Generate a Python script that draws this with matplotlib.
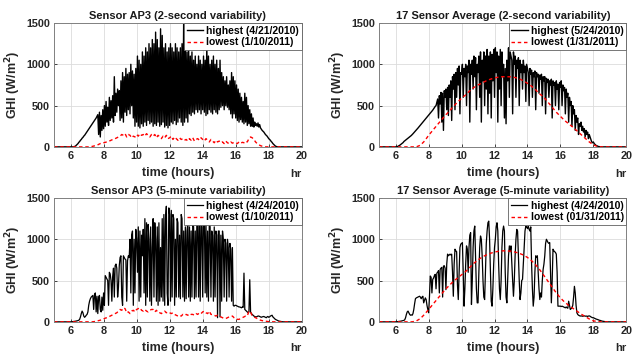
import numpy as np
import matplotlib
matplotlib.use("Agg")
import matplotlib.pyplot as plt

# ── data: GHI (W/m^2), regular time grids ──────────────────────────────────
# panel 1: Sensor AP3, 2-second variability
AP3_2S_HIGH_LABEL = "highest (4/21/2010)"
AP3_2S_HIGH_T0, AP3_2S_HIGH_DT = 6.0, 0.05
AP3_2S_HIGH = [
    0, 0, 0, 0, 2, 5, 10, 20, 30, 40, 55, 65, 80, 90, 105, 115, 130, 140, 155, 170,
    185, 200, 215, 230, 245, 260, 275, 290, 305, 320, 335, 350, 370, 390, 150, 420, 120, 380, 200, 450,
    220, 500, 250, 550, 300, 480, 260, 600, 320, 560, 350, 620, 300, 850, 380, 650, 420, 700, 500, 680,
    320, 800, 350, 900, 300, 850, 420, 950, 380, 880, 450, 900, 400, 1000, 500, 920, 350, 880, 250, 950,
    300, 1100, 250, 1050, 230, 1000, 280, 1150, 250, 1100, 300, 1200, 260, 1150, 320, 1250, 280, 1200, 300, 1300,
    250, 1250, 280, 1390, 260, 1300, 300, 1200, 250, 1430, 270, 1350, 300, 1200, 240, 1250, 260, 1150, 230, 1200,
    260, 1250, 300, 1200, 280, 1150, 320, 1250, 270, 1200, 300, 1150, 350, 1200, 300, 1250, 260, 1550, 300, 1200,
    350, 1150, 300, 1200, 400, 1100, 380, 1150, 420, 1050, 400, 1100, 450, 1000, 420, 1100, 450, 1050, 400, 1000,
    450, 1100, 420, 1050, 380, 1250, 400, 1100, 450, 1000, 420, 1050, 400, 1100, 450, 1000, 420, 1050, 400, 950,
    450, 1050, 480, 900, 500, 850, 450, 800, 500, 850, 480, 750, 450, 800, 400, 900, 350, 850, 400, 800,
    350, 750, 320, 700, 300, 650, 330, 600, 300, 550, 280, 650, 300, 600, 260, 500, 280, 450, 250, 400,
    250, 350, 240, 300, 260, 280, 250, 290, 240, 270, 230, 215, 200, 190, 180, 165, 150, 140, 130, 115,
    100, 90, 80, 65, 55, 40, 30, 20, 10, 5, 2, 0, 0, 0, 0, 0, 0,
]
AP3_2S_LOW_LABEL = "lowest (1/10/2011)"
AP3_2S_LOW_T0, AP3_2S_LOW_DT = 7.0, 0.1
AP3_2S_LOW = [
    0, 0, 2, 5, 10, 15, 20, 30, 40, 45,
    50, 55, 60, 70, 75, 85, 90, 100, 110, 120,
    130, 150, 140, 160, 120, 150, 140, 110, 130, 120,
    150, 130, 160, 140, 150, 130, 160, 140, 120, 150,
    130, 150, 110, 140, 120, 100, 130, 110, 140, 100,
    110, 130, 90, 120, 100, 80, 110, 90, 100, 80,
    90, 70, 100, 80, 110, 70, 90, 100, 80, 110,
    90, 70, 100, 80, 60, 90, 70, 50, 80, 60,
    70, 50, 60, 40, 70, 50, 40, 60, 45, 55,
    50, 40, 60, 45, 55, 50, 70, 60, 100, 120,
    110, 90, 60, 40, 25, 15, 8, 3, 0, 0,
    0, 0, 0, 0, 0, 0,
]

# panel 2: 17 sensor average, 2-second variability
AVG_2S_HIGH_LABEL = "highest (5/24/2010)"
AVG_2S_HIGH_T0, AVG_2S_HIGH_DT = 6.0, 0.05
AVG_2S_HIGH = [
    0, 0, 3, 8, 14, 20, 28, 36, 44, 52, 65, 73, 81, 89, 97, 105, 113, 121, 130, 138,
    148, 159, 170, 181, 192, 203, 215, 227, 239, 250, 262, 274, 286, 298, 310, 322, 334, 346, 358, 370,
    382, 394, 406, 418, 430, 445, 460, 475, 490, 500, 540, 580, 350, 620, 520, 660, 300, 650, 200, 680,
    600, 700, 450, 720, 380, 750, 600, 800, 320, 850, 700, 880, 450, 900, 600, 950, 750, 980, 400, 900,
    880, 1000, 600, 950, 850, 1000, 500, 980, 900, 1050, 300, 1000, 880, 1050, 700, 1100, 850, 1080, 450, 1000,
    900, 1100, 600, 1150, 300, 1050, 800, 1150, 500, 1100, 700, 1180, 400, 1100, 650, 1150, 350, 1120, 800, 1180,
    600, 1200, 900, 1150, 300, 1100, 700, 1180, 500, 1150, 850, 1000, 350, 950, 280, 1050, 800, 1200, 600, 1150,
    1100, 1050, 400, 1150, 1000, 1100, 600, 1050, 950, 1080, 500, 1050, 900, 1000, 700, 1050, 900, 980, 550, 1000,
    950, 900, 500, 950, 880, 930, 600, 900, 850, 920, 450, 900, 850, 880, 650, 870, 820, 880, 500, 850,
    800, 850, 400, 830, 780, 820, 600, 800, 750, 820, 350, 800, 750, 780, 500, 800, 700, 760, 450, 780,
    720, 800, 500, 750, 680, 720, 400, 700, 600, 650, 300, 600, 500, 550, 250, 500, 400, 450, 200, 380,
    300, 350, 150, 280, 250, 300, 200, 250, 180, 220, 120, 200, 150, 180, 100, 150, 120, 90, 60, 50,
    60, 40, 30, 20, 15, 10, 5, 3, 0, 0, 0, 0, 0, 0, 0, 0, 0,
]
AVG_2S_LOW_LABEL = "lowest (1/31/2011)"
AVG_2S_LOW_T0, AVG_2S_LOW_DT = 7.0, 0.25
AVG_2S_LOW = [
    0, 0, 20, 70, 140, 200, 260, 320, 380, 430, 490, 540, 590, 630, 680, 720,
    750, 775, 800, 820, 835, 845, 850, 850, 848, 840, 825, 800, 770, 735, 690, 640,
    600, 540, 480, 420, 370, 320, 280, 240, 195, 150, 105, 60, 25, 5, 0,
]

# panel 3: Sensor AP3, 5-minute variability
AP3_5M_HIGH_LABEL = "highest (4/24/2010)"
AP3_5M_HIGH_T0, AP3_5M_HIGH_DT = 6.0, 0.05
AP3_5M_HIGH = [
    0, 0, 2, 3, 5, 6, 8, 10, 12, 15, 20, 30, 60, 100, 130, 110, 70, 55, 65, 80,
    90, 120, 200, 250, 280, 300, 310, 320, 150, 330, 350, 120, 310, 100, 300, 320, 150, 120, 300, 140,
    350, 200, 560, 540, 520, 500, 200, 600, 580, 500, 250, 550, 650, 300, 680, 700, 650, 300, 420, 680,
    780, 800, 300, 200, 800, 780, 760, 750, 250, 740, 800, 780, 1000, 350, 1050, 1100, 200, 1000, 350, 1120,
    1000, 600, 1150, 250, 1100, 300, 1050, 800, 1120, 350, 1250, 200, 1200, 300, 1180, 1000, 250, 1150, 200, 900,
    1250, 300, 1200, 1000, 250, 1150, 200, 1200, 250, 900, 300, 1250, 250, 1300, 200, 1250, 1400, 350, 200, 1380,
    1300, 250, 1350, 300, 1300, 1250, 200, 1000, 300, 1250, 1200, 300, 1050, 280, 1300, 1250, 300, 1100, 250, 1150,
    280, 1100, 1200, 300, 1150, 250, 1100, 300, 1200, 1150, 280, 1100, 300, 1250, 1200, 300, 1300, 250, 1200, 1150,
    300, 1350, 1300, 350, 1200, 300, 1100, 250, 1200, 1150, 300, 1100, 1050, 250, 1150, 300, 1100, 1050, 50, 1100,
    1100, 60, 1050, 250, 1100, 1000, 300, 1000, 950, 250, 1000, 900, 300, 950, 880, 250, 900, 200, 190, 200,
    200, 195, 190, 185, 180, 180, 175, 170, 180, 175, 590, 150, 140, 130, 120, 110, 120, 510, 120, 100,
    90, 80, 70, 65, 60, 60, 65, 70, 70, 65, 60, 55, 60, 62, 65, 60, 55, 50, 60, 65,
    55, 60, 70, 75, 80, 60, 50, 40, 30, 25, 20, 15, 10, 8, 5, 3, 2, 0, 0, 0,
    0,
]
AP3_5M_LOW_LABEL = "lowest (1/10/2011)"
AP3_5M_LOW_T0, AP3_5M_LOW_DT = 7.0, 0.1
AP3_5M_LOW = [
    0, 0, 0, 0, 2, 5, 10, 15, 20, 28,
    35, 45, 50, 60, 70, 80, 90, 100, 110, 130,
    150, 140, 170, 160, 110, 120, 100, 130, 140, 120,
    150, 160, 170, 140, 130, 150, 130, 120, 140, 150,
    150, 120, 140, 110, 110, 100, 120, 130, 110, 120,
    110, 100, 110, 90, 80, 70, 80, 70, 90, 80,
    90, 80, 100, 90, 90, 80, 100, 90, 110, 100,
    120, 130, 110, 100, 130, 90, 90, 80, 70, 80,
    70, 60, 50, 40, 40, 50, 60, 60, 70, 50,
    40, 30, 30, 40, 50, 60, 70, 70, 130, 120,
    70, 60, 50, 40, 30, 20, 15, 10, 8, 5,
    2, 0, 0, 0, 0, 0,
]

# panel 4: 17 sensor average, 5-minute variability
AVG_5M_HIGH_LABEL = "highest (4/24/2010)"
AVG_5M_HIGH_T0, AVG_5M_HIGH_DT = 6.0, 0.05
AVG_5M_HIGH = [
    0, 0, 2, 3, 5, 6, 8, 10, 12, 15, 18, 25, 50, 90, 120, 130, 110, 90, 80, 85,
    80, 100, 150, 220, 280, 290, 295, 300, 305, 310, 300, 280, 300, 310, 230, 260, 290, 270, 200, 150,
    110, 300, 555, 540, 350, 515, 530, 560, 575, 400, 590, 600, 620, 350, 635, 650, 660, 300, 675, 680,
    650, 390, 700, 820, 800, 810, 820, 810, 820, 600, 310, 700, 880, 860, 850, 450, 270, 600, 900, 940,
    950, 960, 600, 190, 400, 700, 920, 880, 600, 900, 1050, 1080, 210, 500, 900, 1100, 1160, 800, 400, 230,
    230, 600, 900, 1040, 1000, 800, 500, 300, 270, 600, 950, 1100, 1200, 1220, 1000, 600, 250, 190, 400, 700,
    900, 1000, 1150, 1200, 1100, 700, 400, 270, 500, 900, 1100, 1160, 1100, 600, 300, 230, 500, 800, 920, 850,
    920, 700, 500, 310, 500, 800, 1000, 1120, 1100, 800, 500, 270, 350, 500, 515, 700, 900, 1100, 1160, 1150,
    1130, 1160, 1120, 1100, 1150, 700, 400, 190, 300, 600, 800, 780, 800, 600, 400, 270, 350, 300, 500, 635,
    700, 800, 950, 1000, 980, 960, 950, 960, 600, 230, 500, 880, 860, 850, 840, 820, 600, 190, 190, 190,
    190, 185, 190, 185, 180, 175, 170, 180, 170, 165, 250, 200, 150, 160, 170, 200, 300, 430, 350, 200,
    110, 90, 80, 75, 70, 72, 70, 68, 70, 72, 70, 68, 70, 65, 70, 72, 68, 60, 55, 50,
    50, 45, 40, 35, 32, 30, 25, 20, 18, 15, 10, 8, 5, 4, 3, 2, 1, 0, 0, 0,
    0,
]
AVG_5M_LOW_LABEL = "lowest (01/31/2011)"
AVG_5M_LOW_T0, AVG_5M_LOW_DT = 7.0, 0.25
AVG_5M_LOW = [
    0, 10, 40, 90, 150, 210, 270, 330, 390, 440, 490, 530, 570, 610, 660, 710,
    750, 785, 810, 830, 845, 855, 860, 860, 855, 845, 830, 810, 780, 740, 690, 630,
    560, 490, 420, 350, 290, 240, 200, 165, 130, 95, 65, 35, 12, 3, 0,
]

TITLES = [
    "Sensor AP3 (2-second variability)",
    "17 Sensor Average (2-second variability)",
    "Sensor AP3 (5-minute variability)",
    "17 Sensor Average (5-minute variability)",
]
X_TICKS = [6, 8, 10, 12, 14, 16, 18, 20]
Y_TICKS = [0, 500, 1000, 1500]

PANELS = [
    (AP3_2S_HIGH_T0, AP3_2S_HIGH_DT, AP3_2S_HIGH, AP3_2S_HIGH_LABEL,
     AP3_2S_LOW_T0, AP3_2S_LOW_DT, AP3_2S_LOW, AP3_2S_LOW_LABEL),
    (AVG_2S_HIGH_T0, AVG_2S_HIGH_DT, AVG_2S_HIGH, AVG_2S_HIGH_LABEL,
     AVG_2S_LOW_T0, AVG_2S_LOW_DT, AVG_2S_LOW, AVG_2S_LOW_LABEL),
    (AP3_5M_HIGH_T0, AP3_5M_HIGH_DT, AP3_5M_HIGH, AP3_5M_HIGH_LABEL,
     AP3_5M_LOW_T0, AP3_5M_LOW_DT, AP3_5M_LOW, AP3_5M_LOW_LABEL),
    (AVG_5M_HIGH_T0, AVG_5M_HIGH_DT, AVG_5M_HIGH, AVG_5M_HIGH_LABEL,
     AVG_5M_LOW_T0, AVG_5M_LOW_DT, AVG_5M_LOW, AVG_5M_LOW_LABEL),
]

# axes boxes in figure fractions (left, bottom, width, height)
BOXES = [
    (0.0855, 0.592, 0.392, 0.344),
    (0.600, 0.592, 0.391, 0.344),
    (0.0855, 0.106, 0.392, 0.344),
    (0.600, 0.106, 0.391, 0.344),
]
LINE_WIDTHS = [1.0, 1.0, 0.9, 0.9]

plt.rcParams["font.family"] = ["Liberation Sans", "DejaVu Sans"]
plt.rcParams["font.weight"] = "bold"
plt.rcParams["axes.labelweight"] = "bold"
plt.rcParams["axes.titleweight"] = "bold"


def series(t0, dt, vals):
    t = t0 + dt * np.arange(len(vals))
    # flat zero at night out to the axis limits
    return np.r_[5.0, t, 20.0], np.r_[0, vals, 0]


fig = plt.figure(figsize=(6.32, 3.6), dpi=100)
for box, title, p, lw in zip(BOXES, TITLES, PANELS, LINE_WIDTHS):
    ax = fig.add_axes(box)
    ht, hv = series(p[0], p[1], p[2])
    lt, lv = series(p[4], p[5], p[6])
    ax.plot(ht, hv, color="black", lw=lw, label=p[3])
    ax.plot(lt, lv, color="red", lw=1.0, ls=(0, (2.5, 2)), label=p[7])

    ax.set_xlim(5, 20)
    ax.set_ylim(0, 1500)
    ax.set_xticks(X_TICKS)
    ax.set_yticks(Y_TICKS)
    ax.grid(True, color="#dcdcdc", lw=0.6)
    ax.set_axisbelow(True)
    ax.tick_params(direction="in", length=2.5, width=0.6, labelsize=7.8,
                   colors="#262626", pad=3)
    for s in ax.spines.values():
        s.set_color("#808080")
        s.set_linewidth(0.7)

    ax.set_title(title, fontsize=8, pad=3, color="#1a1a1a")
    ax.set_xlabel("time (hours)", fontsize=9, labelpad=4, color="#262626")
    ax.set_ylabel("GHI (W/m$^\\mathbf{2}$)", fontsize=9, labelpad=2, color="#262626")
    ax.text(1.0, -0.215, "hr", transform=ax.transAxes, ha="right", va="center",
            fontsize=8, color="#262626")

    leg = ax.legend(loc="upper right", fontsize=7.5, handlelength=1.6,
                    handletextpad=0.3, borderpad=0.25, labelspacing=0.15,
                    borderaxespad=0, fancybox=False, framealpha=1)
    leg.get_frame().set_edgecolor("#606060")
    leg.get_frame().set_linewidth(0.6)

fig.savefig("out.png", dpi=100)
